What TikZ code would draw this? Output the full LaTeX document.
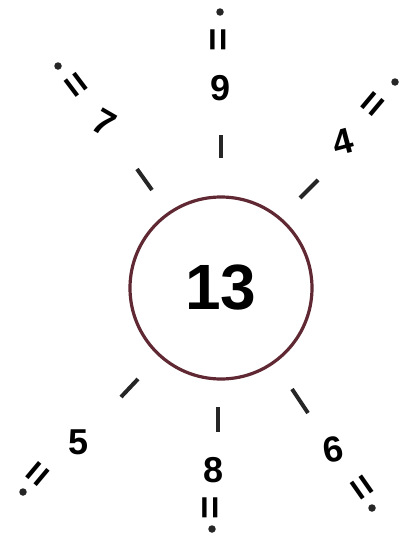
\documentclass[tikz,border=0pt]{standalone}
\usepackage{fontspec}
\setmainfont{Liberation Sans}
\begin{document}
\begin{tikzpicture}[x=1pt,y=-1pt,
  num/.style={font=\fontsize{36}{36}\selectfont\bfseries, inner sep=0pt},
  eqs/.style={font=\fontsize{40}{40}\selectfont\bfseries, inner sep=0pt},
  tick/.style={line width=4pt, color=black!85},
  blank/.style={circle, fill=black!85, inner sep=0pt, minimum size=7.5pt},
  ring/.style={circle, draw={rgb,255:red,95;green,40;blue,50}, line width=3.2pt, minimum size=182pt, inner sep=0pt,
     font=\fontsize{64}{64}\selectfont\bfseries}]
\useasboundingbox (0,0) rectangle (399,538);
\node[ring] (c) at (221,288) {13};
% ray 9 (top)
\coordinate (t9a) at (221,135); \coordinate (t9b) at (221,158);
\draw[tick] (t9a) -- (t9b);
\node[num] (n9) at (221,88) {9};
\node[eqs, rotate=90] (e9) at (221,40) {=};
\node[blank] (d9) at (220,12) {};
% ray 7 (upper left)
\coordinate (t7a) at (137,169); \coordinate (t7b) at (152,190);
\draw[tick] (t7a) -- (t7b);
\node[num, rotate=-30] (n7) at (104,123) {7};
\node[eqs, rotate=-53] (e7) at (74,87) {=};
\node[blank] (d7) at (58,66) {};
% ray 4 (upper right)
\coordinate (t4a) at (300,198); \coordinate (t4b) at (318,180);
\draw[tick] (t4a) -- (t4b);
\node[num, rotate=15] (n4) at (343,142) {4};
\node[eqs, rotate=50] (e4) at (375,106) {=};
\node[blank] (d4) at (395,82) {};
% ray 5 (lower left)
\coordinate (t5a) at (121,397); \coordinate (t5b) at (138,379);
\draw[tick] (t5a) -- (t5b);
\node[num] (n5) at (79,442) {5};
\node[eqs, rotate=50] (e5) at (40,476) {=};
\node[blank] (d5) at (23,492) {};
% ray 8 (bottom)
\coordinate (t8a) at (218,407); \coordinate (t8b) at (218,432);
\draw[tick] (t8a) -- (t8b);
\node[num] (n8) at (214,470) {8};
\node[eqs, rotate=90] (e8) at (213,508) {=};
\node[blank] (d8) at (212,529) {};
% ray 6 (lower right)
\coordinate (t6a) at (292,389); \coordinate (t6b) at (308,413);
\draw[tick] (t6a) -- (t6b);
\node[num, rotate=10] (n6) at (333,450) {6};
\node[eqs, rotate=-55] (e6) at (360,489) {=};
\node[blank] (d6) at (372,508) {};
\end{tikzpicture}
\end{document}
